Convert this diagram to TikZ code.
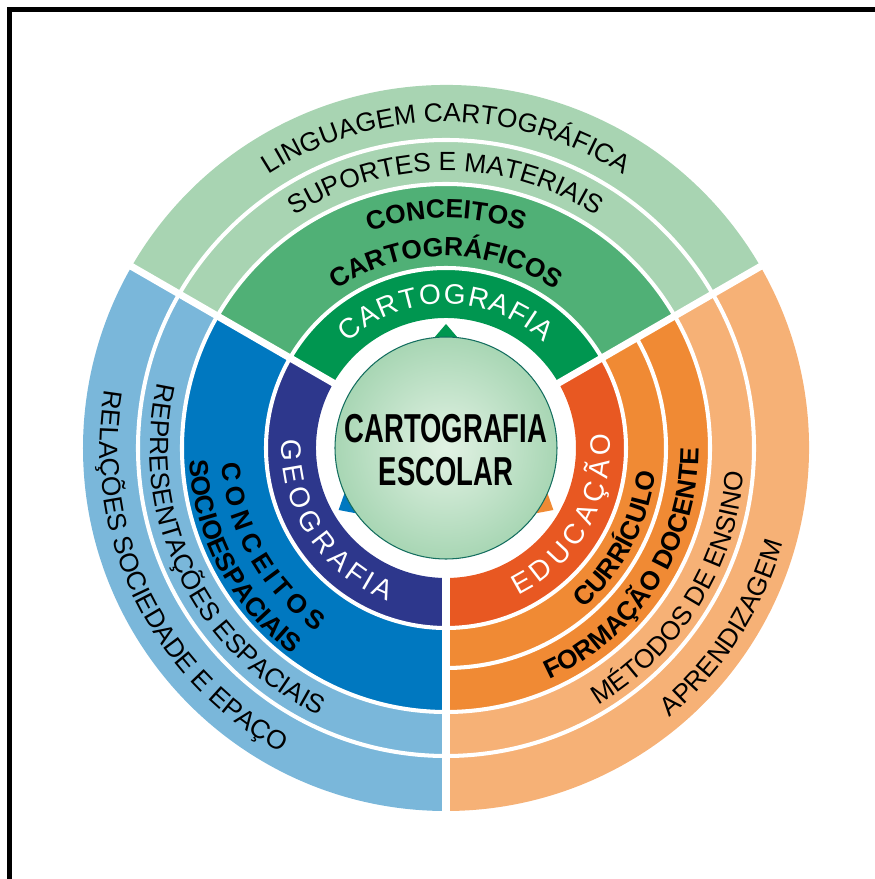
\documentclass[tikz,border=0pt]{standalone}
\usepackage{fontspec}
\setmainfont{Liberation Sans}
\newfontfamily\narrowfont[FakeStretch=0.68]{Liberation Sans}
\usetikzlibrary{decorations.text}

\definecolor{grnA}{RGB}{0,150,80}
\definecolor{grnB}{RGB}{80,176,118}
\definecolor{grnC}{RGB}{168,212,178}
\definecolor{bluA}{RGB}{45,55,140}
\definecolor{bluB}{RGB}{0,120,192}
\definecolor{bluC}{RGB}{122,183,218}
\definecolor{orgA}{RGB}{232,88,34}
\definecolor{orgB}{RGB}{240,138,52}
\definecolor{orgC}{RGB}{246,177,118}
\definecolor{ball}{RGB}{168,214,180}
\definecolor{ballin}{RGB}{226,242,228}
\definecolor{rim}{RGB}{20,110,95}

\newcommand{\fA}{\fontsize{15}{18}\selectfont}
\newcommand{\fB}{\fontsize{15}{18}\selectfont\bfseries}
\newcommand{\fC}{\fontsize{16}{19}\selectfont}
% annular sector: colour, from, to, inner radius, outer radius
\newcommand{\band}[5]{\fill[#1] (#2:#4) arc (#2:#3:#4) -- (#3:#5) arc (#3:#2:#5) -- cycle;}
% text on an arc: from, to, radius, text
\newcommand{\arclabel}[5][black]{\path[decorate,decoration={text along path,text align=center,text color=#1,text={#5}}] (#2:#4) arc (#2:#3:#4);}
% spaced out text filling the arc: from, to, radius, font, text
\newcommand{\spreadlabel}[6][white]{\path[decorate,decoration={text effects along path,text={#6},
    text effects/.cd,text along path,fit text to path,characters={text=#1,font=#5}}] (#2:#4) arc (#2:#3:#4);}

\begin{document}
\begin{tikzpicture}[x=0.02cm,y=0.02cm]
    \useasboundingbox (-446,-431) rectangle (429,448);
    \draw[line width=2.3pt] (-436.5,-431) -- (-436.5,438.5) -- (429,438.5);

    % sectors
    \band{grnA}{30}{150}{130}{180} \band{grnB}{30}{150}{180}{264}
    \band{grnC}{30}{150}{264}{363}
    \band{bluA}{150}{270}{130}{180} \band{bluB}{150}{270}{180}{264}
    \band{bluC}{150}{270}{264}{363}
    \band{orgA}{270}{390}{130}{180} \band{orgB}{270}{390}{180}{264}
    \band{orgC}{270}{390}{264}{363}

    % white gaps
    \foreach \r in {180,264,308} \draw[white,line width=2.3pt] (0,0) circle (\r);
    \draw[white,line width=2.3pt] (270:220) arc (270:390:220);
    \foreach \a in {30,150,270} \draw[white,line width=4pt] (\a:120) -- (\a:370);

    % pointers and centre
    \foreach \a/\c in {90/grnA,210/bluB,330/orgB}
        \fill[\c] (\a:124) -- (\a-9:106) -- (\a+9:106) -- cycle;
    \shade[inner color=ballin,outer color=ball,draw=rim,line width=0.6pt] (0,0) circle (111);
    \node[align=center,font=\narrowfont\bfseries\fontsize{23}{24.5}\selectfont] (center) at (0,-2) {CARTOGRAFIA\\ESCOLAR};

    % cartografia
    \arclabel{150}{30}{326}{|\fA|LINGUAGEM CARTOGRÁFICA}
    \arclabel{150}{30}{277}{|\fA|SUPORTES E MATERIAIS}
    \arclabel{150}{30}{230}{|\fB|CONCEITOS}
    \arclabel{150}{30}{192}{|\fB|CARTOGRÁFICOS}
    \spreadlabel{133}{47}{144}{\fC}{CARTOGRAFIA}

    % geografia
    \arclabel{146}{266}{346}{|\fA|RELAÇÕES SOCIEDADE E EPAÇO}
    \arclabel{146}{266}{296}{|\fA|REPRESENTAÇÕES ESPACIAIS}
    \arclabel{148}{268}{257}{|\fB|SOCIOESPACIAIS}
    \spreadlabel[black]{184}{235}{225}{\fB}{CONCEITOS}
    \spreadlabel{177}{249}{164}{\fC}{GEOGRAFIA}

    % educacao
    \arclabel{267}{387}{350}{|\fA|APRENDIZAGEM}
    \arclabel{268}{388}{299}{|\fA|MÉTODOS DE ENSINO}
    \arclabel{267}{387}{253}{|\fB|FORMAÇÃO DOCENTE}
    \arclabel{272}{392}{211}{|\fB|CURRÍCULO}
    \spreadlabel{296}{365}{164}{\fC}{EDUCAÇÃO}
\end{tikzpicture}
\end{document}
